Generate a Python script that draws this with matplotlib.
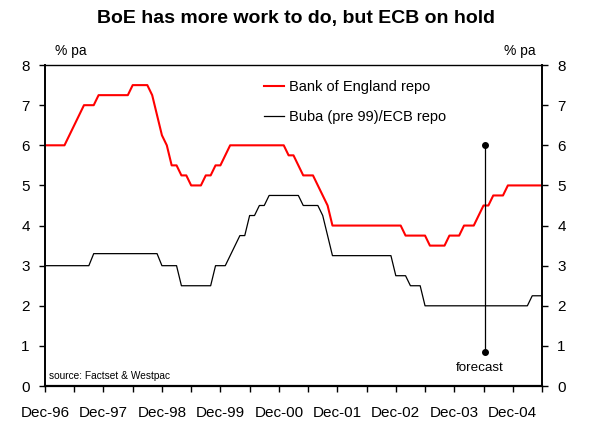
import numpy as np
import matplotlib
matplotlib.use("Agg")
import matplotlib.pyplot as plt

plt.rcParams['font.family'] = ['Liberation Sans', 'DejaVu Sans']

# months counted from Dec-96 (0) to Jun-05 (102)
boe_months = [0, 4, 8, 10, 11, 17, 18, 21, 22, 23, 24, 25, 26, 27, 28, 29, 30, 32, 33, 34,
              35, 36, 37, 38, 49, 50, 51, 52, 53, 55, 56, 57, 58, 59, 73, 74, 78, 79, 82, 83,
              85, 86, 88, 89, 90, 91, 92, 94, 95, 102]
boe_rate = [6.0, 6.0, 7.0, 7.0, 7.25, 7.25, 7.5, 7.5, 7.25, 6.75, 6.25, 6.0, 5.5, 5.5, 5.25, 5.25,
            5.0, 5.0, 5.25, 5.25, 5.5, 5.5, 5.75, 6.0, 6.0, 5.75, 5.75, 5.5, 5.25, 5.25, 5.0, 4.75,
            4.5, 4.0, 4.0, 3.75, 3.75, 3.5, 3.5, 3.75, 3.75, 4.0, 4.0, 4.25, 4.5, 4.5, 4.75, 4.75,
            5.0, 5.0]

ecb_months = [0, 9, 10, 23, 24, 27, 28, 34, 35, 37, 38, 39, 40, 41, 42, 43, 44, 45, 46, 52,
              53, 56, 57, 58, 59, 71, 72, 74, 75, 77, 78, 99, 100, 102]
ecb_rate = [3.0, 3.0, 3.3, 3.3, 3.0, 3.0, 2.5, 2.5, 3.0, 3.0, 3.25, 3.5, 3.75, 3.75, 4.25, 4.25,
            4.5, 4.5, 4.75, 4.75, 4.5, 4.5, 4.25, 3.75, 3.25, 3.25, 2.75, 2.75, 2.5, 2.5, 2.0,
            2.0, 2.25, 2.25]

forecast_month = 90.4
forecast_range = [0.85, 6.0]

tick_labels = ["Dec-96", "Dec-97", "Dec-98", "Dec-99", "Dec-00",
               "Dec-01", "Dec-02", "Dec-03", "Dec-04"]

fig = plt.figure(figsize=(5.92, 4.28), dpi=100)
ax = fig.add_axes([0.076, 0.098, 0.8395, 0.75])

ax.plot(boe_months, boe_rate, color="#ff0000", lw=1.5, label="Bank of England repo")
ax.plot(ecb_months, ecb_rate, color="black", lw=0.9, label="Buba (pre 99)/ECB repo")
ax.plot([forecast_month, forecast_month], forecast_range, color="black", lw=0.9,
        marker="o", markersize=4)
ax.text(forecast_month - 1.2, 0.45, "forecast", ha="center", va="center", fontsize=9.6)
ax.text(0.9, 0.24, "source: Factset & Westpac", ha="left", va="center", fontsize=7.3)

ax.set_xlim(0, 102)
ax.set_ylim(0, 8)
ax.set_xticks(np.arange(0, 103, 6))
ax.set_xticklabels([tick_labels[i // 2] if i % 2 == 0 else "" for i in range(18)])
ax.set_yticks(range(9))
ax.tick_params(axis="both", direction="out", length=4, width=1, labelsize=11, pad=5)
ax.tick_params(axis="x", pad=10)
ax.tick_params(axis="y", right=True, labelright=True, pad=7)
for s in ax.spines.values():
    s.set_linewidth(1.0)
ax.spines["bottom"].set_linewidth(1.6)
ax.spines["left"].set_linewidth(1.4)
ax.spines["right"].set_linewidth(1.4)

fig.text(0.093, 0.871, "% pa", fontsize=10, ha="left")
fig.text(0.905, 0.871, "% pa", fontsize=10, ha="right")
fig.text(0.5, 0.957, "BoE has more work to do, but ECB on hold", fontsize=14,
         fontweight="bold", ha="center", va="center")

ax.legend(loc="upper left", bbox_to_anchor=(0.414, 0.995), frameon=False, fontsize=10.5,
          handlelength=1.4, labelspacing=1.1, handletextpad=0.3)

fig.savefig("out.png", dpi=100)
